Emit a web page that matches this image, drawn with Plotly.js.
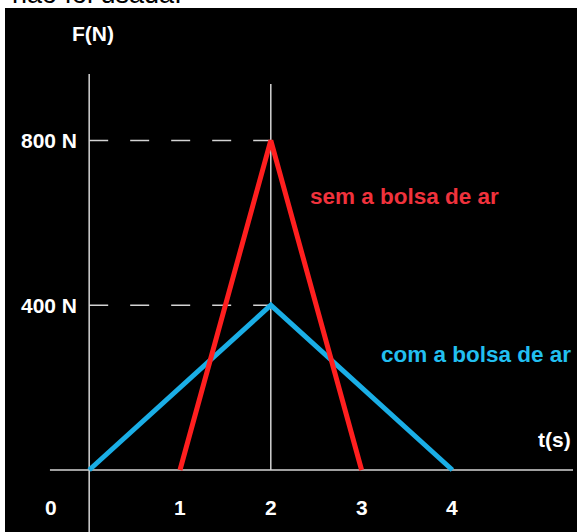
<!DOCTYPE html>
<html>
<head>
<meta charset="utf-8">
<script src="https://cdn.plot.ly/plotly-3.0.1.min.js"></script>
<style>
  html, body { margin: 0; padding: 0; background: #fff; }
  #chart { width: 577px; height: 532px; }
</style>
</head>
<body>
<div id="chart"></div>
<script>
// Curves of force vs time
const tempoSem = [1, 2, 3];
const forcaSem = [0, 800, 0];
const tempoCom = [0, 2, 4];
const forcaCom = [0, 400, 0];

// Tick labels
const tTicks = [1, 2, 3, 4];
const tLabels = ['1', '2', '3', '4'];
const fTicks = [400, 800];
const fLabels = ['400 N', '800 N'];

const RED = '#ff1f1f';
const BLUE = '#1aaee6';
const AXIS = '#d4d4d4';
const FONT = 'Liberation Sans, Arial, sans-serif';

const xRange = [-0.927, 5.372];
const yRange = [-150.5, 1121.4];

// Blue under red, like the drawing
const traces = [
    {
        x: tempoCom, y: forcaCom,
        mode: 'lines', type: 'scatter',
        line: { color: BLUE, width: 5 },
        hoverinfo: 'skip'
    },
    {
        x: tempoSem, y: forcaSem,
        mode: 'lines', type: 'scatter',
        line: { color: RED, width: 5 },
        hoverinfo: 'skip'
    }
];

const shapes = [
    // horizontal axis
    { type: 'line', xref: 'x', yref: 'y', x0: -0.432, x1: 5.328, y0: 0, y1: 0,
      line: { color: AXIS, width: 1.5 }, layer: 'below' },
    // vertical axis
    { type: 'line', xref: 'x', yref: 'y', x0: 0, x1: 0, y0: yRange[0], y1: 961,
      line: { color: AXIS, width: 1.5 }, layer: 'below' },
    // line at t = 2
    { type: 'line', xref: 'x', yref: 'y', x0: 2, x1: 2, y0: 0, y1: 937,
      line: { color: AXIS, width: 1.5 }, layer: 'below' }
];

// dashed guides to the peaks
fTicks.forEach(v => {
    shapes.push({ type: 'line', xref: 'x', yref: 'y', x0: 0, x1: 2, y0: v, y1: v,
        line: { color: AXIS, width: 1.5, dash: '19px,22px' }, layer: 'below' });
});

const tickFont = { family: FONT, size: 21, color: '#ffffff' };
const mid = { showarrow: false, xanchor: 'center', yanchor: 'middle' };

const annotations = [];
tTicks.forEach((t, i) => {
    annotations.push({ ...mid, x: t, y: -90, xref: 'x', yref: 'y',
        text: '<b>' + tLabels[i] + '</b>', font: tickFont });
});
annotations.push({ ...mid, x: -0.42, y: -90, xref: 'x', yref: 'y', text: '<b>0</b>', font: tickFont });
fTicks.forEach((v, i) => {
    annotations.push({ ...mid, x: -0.44, y: v, xref: 'x', yref: 'y',
        text: '<b>' + fLabels[i] + '</b>', font: tickFont });
});
annotations.push(
    { ...mid, x: 0.154, y: 0.952, xref: 'paper', yref: 'paper', text: '<b>F(N)</b>', font: tickFont },
    { ...mid, x: 0.9615, y: 0.1756, xref: 'paper', yref: 'paper', text: '<b>t(s)</b>', font: tickFont },
    { ...mid, x: 0.699, y: 0.641, xref: 'paper', yref: 'paper', text: '<b>sem a bolsa de ar</b>',
      font: { family: FONT, size: 22.5, color: '#f0323c' } },
    { ...mid, x: 0.8234, y: 0.338, xref: 'paper', yref: 'paper', text: '<b>com a bolsa de ar</b>',
      font: { family: FONT, size: 22.5, color: '#22bff0' } },
    // cut-off text from the page above the figure
    { x: 0.009, y: 1, xref: 'paper', yref: 'paper', xanchor: 'left', yanchor: 'bottom',
      yshift: -3, text: 'não foi usada.', showarrow: false,
      font: { family: FONT, size: 27, color: '#000000' } }
);

const layout = {
    width: 577,
    height: 532,
    margin: { l: 5, r: 0, t: 8, b: 0, pad: 0 },
    paper_bgcolor: '#ffffff',
    plot_bgcolor: '#000000',
    showlegend: false,
    xaxis: { range: xRange, visible: false, fixedrange: true },
    yaxis: { range: yRange, visible: false, fixedrange: true },
    shapes: shapes,
    annotations: annotations
};

Plotly.newPlot('chart', traces, layout, { displayModeBar: false, staticPlot: true });
</script>
</body>
</html>
